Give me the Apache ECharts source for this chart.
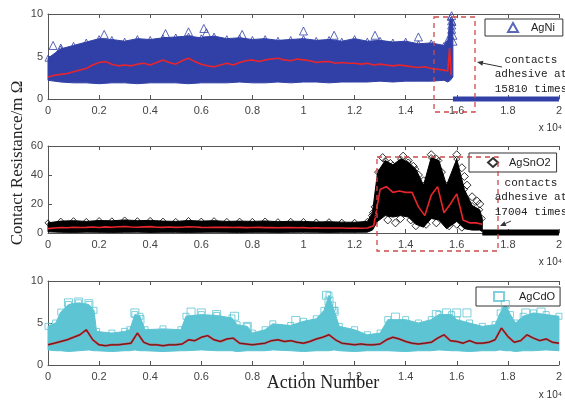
<!DOCTYPE html>
<html>
<head>
<meta charset="utf-8">
<script src="https://cdn.jsdelivr.net/npm/echarts@6/dist/echarts.min.js"></script>
<style>
  html, body { margin: 0; padding: 0; background: #fff; }
  #chart { width: 565px; height: 403px; }
</style>
</head>
<body>
<div id="chart"></div>
<script>
// sample positions along the action axis (units of 10^4 actions)
const grid05 = Array.from({ length: 41 }, (_, i) => +(i * 0.05).toFixed(3))
const grid025 = Array.from({ length: 81 }, (_, i) => +(i * 0.025).toFixed(3))

// ---- AgNi (top) ----
const agniX = grid05.slice(0, 32).concat([1.565, 1.575, 1.585])
const agniUpper = [4.8, 5.9, 6.3, 6.7, 7.1, 7.0, 6.8, 7.1, 7.0, 7.2,
  7.3, 7.4, 7.2, 7.4, 7.1, 7.2, 7.0, 7.1, 6.9, 7.0,
  7.1, 6.9, 7.0, 6.8, 7.1, 6.8, 6.9, 6.7, 6.8, 6.5,
  6.6, 6.3, 7.0, 9.6, 9.0]
const agniLower = [2.2, 2.0, 1.9, 1.9, 1.8, 1.9, 1.9, 1.8, 1.9, 1.9,
  1.9, 1.8, 1.9, 1.9, 1.9, 2.0, 1.9, 1.9, 2.0, 1.9,
  2.0, 2.0, 1.9, 2.0, 2.0, 2.0, 2.1, 2.0, 2.1, 2.1,
  2.1, 2.2, 2.0, 2.2, 2.6]
const agniMean = [2.6, 2.8, 2.9, 3.0, 3.2, 3.4, 3.6, 4.0, 4.3, 4.4,
  4.1, 3.9, 4.0, 3.9, 4.1, 4.2, 4.0, 4.3, 4.6, 4.3,
  4.1, 4.5, 4.8, 4.4, 4.1, 3.9, 3.8, 4.0, 4.2, 4.0,
  4.3, 4.5, 4.6, 4.4, 4.6, 4.7, 4.8, 4.6, 4.5, 4.7,
  4.6, 4.5, 4.3, 4.4, 4.4, 4.2, 4.3, 4.2, 4.2, 4.1,
  4.2, 4.0, 4.1, 4.0, 3.9, 4.0, 3.9, 3.8, 3.7, 3.8,
  3.6, 3.5, 3.4]
const agniMeanTail = [[1.565, 3.3], [1.572, 6.0], [1.578, 2.8]]
const agniWelded = [[1.585, 0], [2.0, 0]]
const agniOutliers = [[0.02, 6.3], [0.05, 6.0], [0.22, 7.6], [0.46, 7.7], [0.55, 7.9],
  [0.61, 8.3], [0.62, 7.8], [0.76, 7.6], [1.0, 8.0], [1.12, 7.5], [1.28, 7.5],
  [1.45, 7.3], [1.58, 9.8], [1.58, 9.2], [1.58, 8.7], [1.58, 8.2], [1.585, 7.5], [1.585, 6.8]]

// ---- AgSnO2 (middle) ----
const sngX = grid05.slice(0, 26).concat([1.27, 1.29, 1.32, 1.35, 1.38, 1.41, 1.44, 1.47,
  1.5, 1.53, 1.56, 1.6, 1.63, 1.66, 1.69, 1.7])
const sngUpper = [7.0, 8.2, 8.5, 8.0, 8.6, 8.4, 9.0, 8.5, 8.7, 8.2,
  8.0, 8.6, 8.2, 8.5, 8.0, 8.2, 8.0, 8.3, 7.8, 8.1,
  8.0, 7.6, 7.8, 7.5, 7.4, 8.0,
  14, 42, 50, 47, 51, 49, 44, 33, 52, 50, 33, 51, 30, 19, 16, 10]
const sngLower = [0.8, 0.5, 0.4, 0.6, 0.5, 0.4, 0.5, 0.6, 0.4, 0.5,
  0.5, 0.4, 0.5, 0.6, 0.5, 0.4, 0.5, 0.5, 0.4, 0.5,
  0.6, 0.5, 0.4, 0.5, 0.5, 0.6,
  2, 8, 12, 11, 12, 11, 6, 4, 10, 9, 3, 8, 3, 2, 2, 1]
const sngMean = [3.0, 3.5, 3.8, 3.6, 4.0, 3.8, 3.9, 4.1, 3.8, 4.2,
  4.0, 4.3, 4.5, 4.1, 4.0, 4.2, 4.4, 4.0, 3.9, 4.1,
  3.9, 4.0, 4.3, 4.1, 3.9, 3.8, 4.0, 3.9, 4.0, 3.8,
  3.9, 3.7, 3.8, 3.9, 3.7, 3.8, 3.6, 3.7, 3.8, 3.6,
  3.7, 3.5, 3.6, 3.5, 3.4, 3.5, 3.4, 3.3, 3.4, 3.3,
  3.5, 5, 30, 32, 28, 29, 28, 28, 18, 12,
  26, 32, 14, 20, 27, 9, 7, 7, 6,
  null, null, null, null, null, null, null, null, null, null, null, null]
const sngWelded = [[1.7, 0.3], [2.0, 0.3]]
const sngOutliers = [[1.27, 12], [1.28, 18], [1.31, 52], [1.34, 48], [1.36, 45], [1.39, 53],
  [1.41, 50], [1.43, 46], [1.45, 40], [1.47, 36], [1.5, 54], [1.52, 51], [1.54, 42],
  [1.6, 54], [1.62, 45], [1.63, 39], [1.64, 33], [1.66, 25], [1.68, 22], [1.69, 20],
  [1.33, 9], [1.36, 7], [1.38, 10], [1.42, 9], [1.44, 5], [1.46, 8], [1.48, 6],
  [1.52, 7], [1.55, 9], [1.57, 5], [1.6, 6], [1.62, 4]]

// ---- AgCdO (bottom) ----
const cdoX = [0, 0.03, 0.05, 0.08, 0.12, 0.16, 0.18, 0.19, 0.25, 0.3,
  0.32, 0.34, 0.36, 0.38, 0.45, 0.52, 0.54, 0.6, 0.66, 0.72,
  0.74, 0.78, 0.8, 0.85, 0.88, 0.95, 1.0, 1.05, 1.08, 1.1,
  1.12, 1.14, 1.2, 1.25, 1.3, 1.33, 1.4, 1.45, 1.5, 1.53,
  1.58, 1.6, 1.65, 1.7, 1.75, 1.77, 1.79, 1.81, 1.83, 1.86,
  1.9, 1.95, 2.0]
const cdoUpper = [4.6, 5.0, 6.3, 7.2, 7.4, 7.2, 6.5, 4.0, 3.8, 4.0,
  4.2, 6.0, 5.8, 4.2, 4.3, 4.2, 5.8, 6.0, 5.9, 5.6,
  4.8, 4.6, 3.8, 4.2, 4.9, 4.7, 5.2, 5.5, 6.5, 8.3,
  6.5, 4.6, 4.2, 3.6, 3.8, 5.4, 5.4, 5.0, 5.4, 6.0,
  6.0, 5.4, 5.0, 4.6, 4.8, 6.2, 7.2, 6.0, 5.0, 5.8,
  6.2, 6.0, 5.8]
const cdoLower = [1.8, 1.7, 1.7, 1.6, 1.7, 1.8, 1.7, 1.7, 1.6, 1.7,
  1.7, 1.8, 1.7, 1.7, 1.6, 1.7, 1.7, 1.8, 1.7, 1.7,
  1.6, 1.7, 1.7, 1.7, 1.8, 1.7, 1.6, 1.7, 1.7, 1.7,
  1.8, 1.7, 1.6, 1.7, 1.7, 1.7, 1.6, 1.7, 1.7, 1.8,
  1.7, 1.7, 1.6, 1.7, 1.7, 1.8, 1.7, 1.7, 1.6, 1.7,
  1.7, 1.8, 1.7]
const cdoMean = [2.4, 2.6, 2.8, 3.0, 3.3, 3.6, 4.2, 3.0, 2.4, 2.3,
  2.4, 2.4, 2.5, 2.6, 3.8, 2.7, 2.4, 2.4, 2.3, 2.4,
  2.4, 2.5, 3.0, 2.9, 3.3, 3.5, 3.0, 2.8, 3.1, 3.2,
  2.6, 2.5, 2.4, 2.5, 2.6, 2.9, 3.0, 2.8, 2.9, 2.7,
  2.6, 2.8, 3.1, 3.3, 3.6, 3.0, 2.6, 2.5, 2.4, 2.5,
  2.4, 2.4, 2.5, 3.0, 3.3, 3.1, 2.8, 2.6, 2.5, 2.6,
  2.7, 3.2, 3.6, 2.9, 2.8, 2.6, 2.9, 2.6, 2.6, 2.7,
  3.0, 4.4, 3.4, 2.7, 2.9, 3.6, 3.2, 2.9, 3.1, 2.7, 2.6]
const cdoOutliers = [[0.08, 7.4], [0.12, 7.5], [0.16, 7.3], [0.34, 6.2], [0.36, 5.4],
  [0.56, 6.3], [0.6, 6.2], [0.66, 6.0], [0.73, 5.8], [0.78, 4.6], [0.97, 5.3],
  [1.09, 8.3], [1.1, 7.6], [1.11, 7.0], [1.12, 6.4], [1.36, 5.7], [1.52, 6.0],
  [1.56, 6.2], [1.6, 6.2], [1.64, 6.2], [1.79, 7.2], [1.87, 6.2], [1.93, 6.3]]

const xTicks = { min: 0, max: 2, interval: 0.2 }
const yScales = [{ max: 10, interval: 5 }, { max: 60, interval: 20 }, { max: 10, interval: 5 }]

const BLUE = '#3140a6'
const RED = '#e8252c'
const CYAN = '#5cc4d3'
const AXIS = '#555'

const pairs = (xs, ys) => xs.map((x, i) => [x, ys[i]])

// filled envelope between lower and upper, drawn as one polygon through the axes
function bandSeries (g, xs, lower, upper, color, symbol) {
  const triples = xs.map((x, i) => [x, lower[i], upper[i]])
  return [{
    type: 'custom', xAxisIndex: 2 * g, yAxisIndex: g, silent: true, z: 1,
    encode: { x: 0, y: [1, 2] },
    data: triples,
    renderItem: (params, api) => {
      if (params.dataIndex !== 0) return null
      const top = triples.map(t => api.coord([t[0], t[2]]))
      const bot = triples.map(t => api.coord([t[0], t[1]])).reverse()
      return {
        type: 'polygon',
        shape: { points: top.concat(bot) },
        style: { fill: color, stroke: color, lineWidth: 1 }
      }
    }
  }, {
    type: 'scatter', xAxisIndex: 2 * g, yAxisIndex: g, symbol: symbol, symbolSize: 6,
    silent: true, itemStyle: { color: 'rgba(0,0,0,0)', borderColor: color, borderWidth: 1 },
    data: pairs(xs, upper), z: 2
  }]
}

function axesFor (g) {
  const tick = { show: true, inside: true, length: 4, lineStyle: { color: AXIS } }
  const line = { show: true, lineStyle: { color: AXIS, width: 1 } }
  const label = { color: '#444', fontSize: 11, fontFamily: 'Liberation Sans', margin: 6 }
  return {
    x: [
      Object.assign({ gridIndex: g, type: 'value', position: 'bottom', axisLine: line, axisTick: tick,
        axisLabel: label, splitLine: { show: false } }, xTicks),
      Object.assign({ gridIndex: g, type: 'value', position: 'top', axisLine: line, axisTick: tick,
        axisLabel: { show: false }, splitLine: { show: false } }, xTicks)
    ],
    y: { gridIndex: g, type: 'value', min: 0, max: yScales[g].max, interval: yScales[g].interval,
      axisLine: line, axisTick: tick, axisLabel: Object.assign({}, label, { margin: 5 }),
      splitLine: { show: false } }
  }
}

const axes = [0, 1, 2].map(axesFor)

function legendAt (name, icon, left, top, padding, textPad) {
  return {
    data: [{ name: name, icon: icon }], left: left, top: top, orient: 'horizontal',
    padding: padding, itemWidth: 10, itemHeight: 9, borderColor: '#333', borderWidth: 1,
    backgroundColor: '#fff', selectedMode: false,
    textStyle: { fontSize: 11, color: '#222', fontFamily: 'Liberation Sans', padding: [0, 0, 0, textPad] }
  }
}

function arrow (x1, y1, x2, y2) {
  const a = Math.atan2(y2 - y1, x2 - x1)
  const L = 6, W = 2.6
  const bx = x2 - L * Math.cos(a), by = y2 - L * Math.sin(a)
  return [{
    type: 'line', shape: { x1: x1, y1: y1, x2: bx, y2: by }, style: { stroke: '#333', lineWidth: 1 }, z: 100
  }, {
    type: 'polygon', z: 100,
    shape: { points: [[x2, y2], [bx + W * Math.sin(a), by - W * Math.cos(a)], [bx - W * Math.sin(a), by + W * Math.cos(a)]] },
    style: { fill: '#333' }
  }]
}

const note = (text, x, y) => ({
  type: 'text', x: x, y: y, z: 100,
  style: { text: text, font: '11px "Liberation Mono"', fill: '#222', align: 'center', verticalAlign: 'middle', lineHeight: 14.5 }
})
const power = y => ({
  type: 'text', x: 562, y: y, z: 100,
  style: { text: 'x 10⁴', font: '10px "Liberation Sans"', fill: '#333', align: 'right', verticalAlign: 'middle' }
})
const dashedBox = (x, y, w, h) => ({
  type: 'rect', z: 100, shape: { x: x, y: y, width: w, height: h },
  style: { fill: 'none', stroke: '#d0494a', lineWidth: 1.3, lineDash: [5, 4] }
})

const chart = echarts.init(document.getElementById('chart'), null, { renderer: 'canvas' })
chart.setOption({
  animation: false,
  backgroundColor: '#fff',
  grid: [
    { left: 48, right: 2, top: 14, height: 85 },
    { left: 48, right: 2, top: 146, height: 87 },
    { left: 48, right: 2, top: 281, height: 84 }
  ],
  xAxis: [].concat(axes[0].x, axes[1].x, axes[2].x),
  yAxis: axes.map(a => a.y),
  legend: [
    legendAt('AgNi', 'triangle', 485, 19, [3, 8, 3, 22], 8),
    legendAt('AgSnO2', 'diamond', 469, 153, [4, 6, 4, 18], 6),
    legendAt('AgCdO', 'rect', 476, 287, [4, 5, 4, 17], 10)
  ],
  series: [].concat(
    bandSeries(0, agniX, agniLower, agniUpper, BLUE, 'triangle'),
    [{
      type: 'line', xAxisIndex: 0, yAxisIndex: 0, symbol: 'none', clip: false,
      lineStyle: { color: BLUE, width: 5 }, data: agniWelded, z: 2
    }, {
      type: 'line', xAxisIndex: 0, yAxisIndex: 0, symbol: 'none',
      lineStyle: { color: RED, width: 1.6 }, data: pairs(grid025.slice(0, 63), agniMean).concat(agniMeanTail), z: 3
    }, {
      name: 'AgNi', type: 'scatter', xAxisIndex: 0, yAxisIndex: 0, symbol: 'triangle', symbolSize: 8,
      itemStyle: { color: 'rgba(0,0,0,0)', borderColor: BLUE, borderWidth: 1 }, data: agniOutliers, z: 4
    }],
    bandSeries(1, sngX, sngLower, sngUpper, '#000', 'diamond'),
    [{
      type: 'line', xAxisIndex: 2, yAxisIndex: 1, symbol: 'none', clip: false,
      lineStyle: { color: '#000', width: 6 }, data: sngWelded, z: 2
    }, {
      type: 'line', xAxisIndex: 2, yAxisIndex: 1, symbol: 'none', connectNulls: false,
      lineStyle: { color: RED, width: 1.6 }, data: pairs(grid025, sngMean), z: 3
    }, {
      name: 'AgSnO2', type: 'scatter', xAxisIndex: 2, yAxisIndex: 1, symbol: 'diamond', symbolSize: 8,
      itemStyle: { color: 'rgba(0,0,0,0)', borderColor: '#000', borderWidth: 1 }, data: sngOutliers, z: 4
    }],
    bandSeries(2, cdoX, cdoLower, cdoUpper, CYAN, 'rect'),
    [{
      type: 'line', xAxisIndex: 4, yAxisIndex: 2, symbol: 'none',
      lineStyle: { color: RED, width: 2 }, data: pairs(grid025, cdoMean), z: 3
    }, {
      type: 'line', xAxisIndex: 4, yAxisIndex: 2, symbol: 'none',
      lineStyle: { color: '#222', width: 0.8 }, data: pairs(grid025, cdoMean), z: 3
    }, {
      name: 'AgCdO', type: 'scatter', xAxisIndex: 4, yAxisIndex: 2, symbol: 'rect', symbolSize: 8,
      itemStyle: { color: 'rgba(0,0,0,0)', borderColor: CYAN, borderWidth: 1 }, data: cdoOutliers, z: 4
    }]
  ),
  graphic: [].concat(
    [{
      type: 'text', x: 18, y: 163, rotation: Math.PI / 2, z: 100,
      style: { text: 'Contact Resistance/m Ω', font: '17px "Liberation Serif"', fill: '#222', align: 'center', verticalAlign: 'middle' }
    }, {
      type: 'text', x: 323, y: 383, z: 100,
      style: { text: 'Action Number', font: '18px "Liberation Serif"', fill: '#222', align: 'center', verticalAlign: 'middle' }
    },
    power(128), power(262), power(395),
    dashedBox(434, 17, 41, 95),
    dashedBox(377, 157, 121, 94),
    note('contacts\nadhesive at\n15810 times', 531, 74.5),
    note('contacts\nadhesive at\n17004 times', 531, 197.5)],
    arrow(502, 67, 477, 62),
    arrow(511, 221, 500, 226)
  )
})
</script>
</body>
</html>
